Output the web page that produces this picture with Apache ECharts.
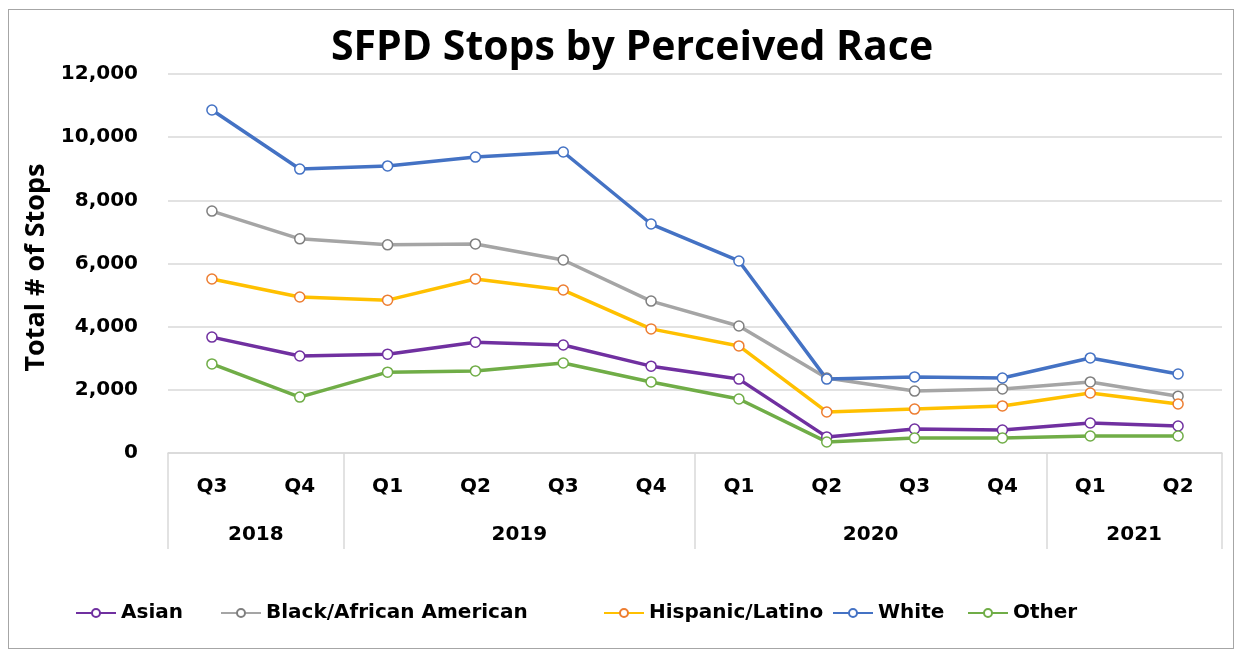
<!DOCTYPE html>
<html>
<head>
<meta charset="utf-8">
<script src="https://cdn.jsdelivr.net/npm/echarts@6/dist/echarts.min.js"></script>
<style>
  html, body { margin: 0; padding: 0; background: #fff; }
  #frame { position: absolute; left: 8px; top: 9px; width: 1226px; height: 640px; border: 1px solid #a6a6a6; box-sizing: border-box; }
  #chart { width: 1236px; height: 656px; }
</style>
</head>
<body>
<div id="frame"></div>
<div id="chart"></div>
<script>
let quarters = ['Q3', 'Q4', 'Q1', 'Q2', 'Q3', 'Q4', 'Q1', 'Q2', 'Q3', 'Q4', 'Q1', 'Q2'];
let years = ['2018', '2019', '2020', '2021'];
let yearBounds = [0, 2, 6, 10, 12];
let yearCenters = [1, 4, 8, 11];

let seriesNames = ['Asian', 'Black/African American', 'Hispanic/Latino', 'White', 'Other'];
let asian = [3670, 3070, 3130, 3510, 3420, 2750, 2340, 510, 760, 730, 950, 855];
let black = [7660, 6780, 6590, 6620, 6110, 4810, 4020, 2375, 1960, 2030, 2250, 1800];
let hispanic = [5510, 4940, 4840, 5510, 5160, 3930, 3390, 1300, 1390, 1490, 1900, 1550];
let white = [10860, 8990, 9090, 9370, 9530, 7250, 6080, 2340, 2410, 2375, 3010, 2500];
let other = [2820, 1770, 2560, 2600, 2850, 2250, 1710, 350, 475, 475, 540, 540];

const WIDE = 'DejaVu Sans';
const FONT = 'Open Sans';

// excel spaces legend entries unevenly, so one legend per entry
let legendLefts = [70, 215, 598, 827, 962];

function mkSeries(name, data, color, border) {
    return {
        name: name,
        type: 'line',
        data: data,
        symbol: 'circle',
        symbolSize: 10,
        lineStyle: {color: color, width: 3.5},
        itemStyle: {color: '#fff', borderColor: border || color, borderWidth: 1.5},
        emphasis: {disabled: true}
    };
}

let chart = echarts.init(document.getElementById('chart'));
chart.setOption({
    animation: false,
    title: {
        text: 'SFPD Stops by Perceived Race',
        left: 326,
        top: 23,
        textStyle: {fontFamily: FONT, fontWeight: 'bold', fontSize: 41, color: '#000'}
    },
    legend: seriesNames.map((n, i) => ({
        bottom: 28,
        left: legendLefts[i],
        itemWidth: 40,
        itemHeight: 10,
        itemGap: 0,
        textStyle: {fontFamily: WIDE, fontWeight: 'bold', fontSize: 20, color: '#000'},
        data: [n]
    })),
    grid: {left: 168, right: 14, top: 74, bottom: 203},
    xAxis: [{
        type: 'category',
        data: quarters,
        boundaryGap: true,
        axisLine: {lineStyle: {color: '#d9d9d9', width: 1.5}},
        axisTick: {show: false},
        axisLabel: {margin: 24, fontFamily: WIDE, fontWeight: 'bold', fontSize: 20, color: '#000'}
    }, {
        type: 'value',
        position: 'bottom',
        min: 0,
        max: 12,
        axisLine: {show: false},
        splitLine: {show: false},
        axisTick: {show: true, customValues: yearBounds, length: 96, inside: false, lineStyle: {color: '#d9d9d9', width: 1.5}},
        axisLabel: {
            customValues: yearCenters,
            margin: 72,
            fontFamily: WIDE, fontWeight: 'bold', fontSize: 20, color: '#000',
            formatter: function (v) { return years[yearCenters.indexOf(v)]; }
        }
    }],
    yAxis: {
        type: 'value',
        min: 0,
        max: 12000,
        interval: 2000,
        name: 'Total # of Stops',
        nameLocation: 'middle',
        nameGap: 116,
        nameTextStyle: {fontFamily: FONT, fontWeight: 'bold', fontSize: 27, color: '#000', padding: [0, 0, 0, -8]},
        axisLine: {show: false},
        axisTick: {show: false},
        splitLine: {lineStyle: {color: '#d9d9d9', width: 1.5}},
        axisLabel: {
            margin: 30,
            fontFamily: WIDE, fontWeight: 'bold', fontSize: 20, color: '#000',
            formatter: function (v) { return v.toLocaleString('en-US'); }
        }
    },
    series: [
        mkSeries(seriesNames[0], asian, '#7030a0'),
        mkSeries(seriesNames[1], black, '#a5a5a5', '#7f7f7f'),
        mkSeries(seriesNames[2], hispanic, '#ffc000', '#ed7d31'),
        mkSeries(seriesNames[3], white, '#4472c4'),
        mkSeries(seriesNames[4], other, '#70ad47')
    ]
});
</script>
</body>
</html>
